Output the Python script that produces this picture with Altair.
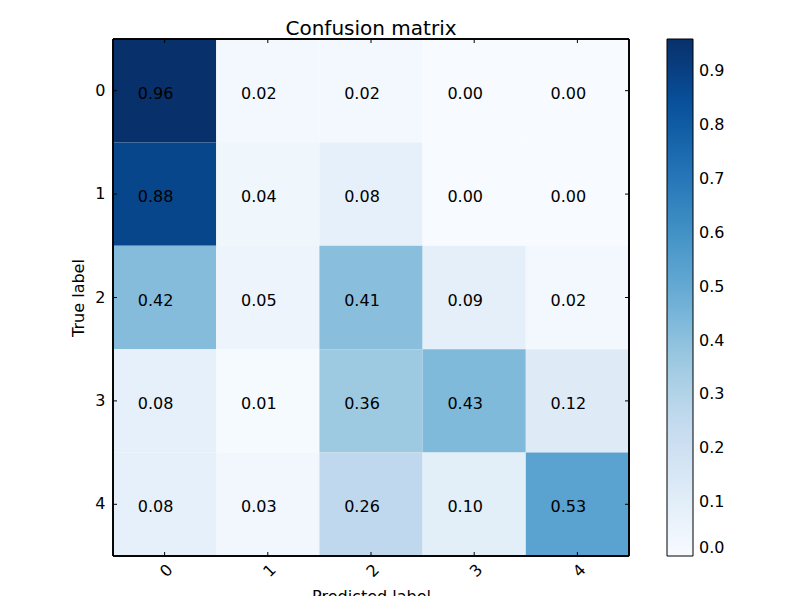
import altair as alt
import pandas as pd

labels = ["0", "1", "2", "3", "4"]
matrix = [
    [0.96, 0.02, 0.02, 0.00, 0.00],
    [0.88, 0.04, 0.08, 0.00, 0.00],
    [0.42, 0.05, 0.41, 0.09, 0.02],
    [0.08, 0.01, 0.36, 0.43, 0.12],
    [0.08, 0.03, 0.26, 0.10, 0.53],
]
blues = ["#f7fbff", "#deebf7", "#c6dbef", "#9ecae1", "#6baed6",
         "#4292c6", "#2171b5", "#08519c", "#08306b"]
cbar_ticks = [0.0, 0.1, 0.2, 0.3, 0.4, 0.5, 0.6, 0.7, 0.8, 0.9]

vmax = 0.96
stops = [vmax * i / (len(blues) - 1) for i in range(len(blues))]

rows = []
for i, t in enumerate(labels):
    for j, p in enumerate(labels):
        rows.append({"true": t, "pred": p, "v": matrix[i][j], "txt": f"{matrix[i][j]:.2f}"})
df = pd.DataFrame(rows)
cols_df = pd.DataFrame({"pred": labels})
rows_df = pd.DataFrame({"true": labels})

W, H = 516, 517
FONT = "DejaVu Sans"

xs = alt.Scale(domain=labels, paddingInner=0, paddingOuter=0)
ys = alt.Scale(domain=labels, paddingInner=0, paddingOuter=0)

rect = alt.Chart(df).mark_rect().encode(
    x=alt.X("pred:O", scale=xs, title="Predicted label",
            axis=alt.Axis(labelAngle=-45, ticks=False, domain=False, labelPadding=5,
                          labelFontSize=16, titleFontSize=16, titleFontWeight="normal",
                          labelFont=FONT, titleFont=FONT, labelColor="black", titleColor="black",
                          titlePadding=9)),
    y=alt.Y("true:O", scale=ys, title="True label",
            axis=alt.Axis(labelAngle=0, ticks=False, domain=False, labelPadding=8,
                          labelFontSize=16, titleFontSize=16, titleFontWeight="normal",
                          labelFont=FONT, titleFont=FONT, labelColor="black", titleColor="black",
                          titlePadding=8)),
    color=alt.Color("v:Q", scale=alt.Scale(domain=stops, range=blues, interpolate="rgb"),
                    legend=alt.Legend(title=None, orient="right", offset=38, padding=0,
                                      gradientLength=H, gradientThickness=26,
                                      gradientStrokeColor="black", gradientStrokeWidth=1,
                                      values=cbar_ticks, format=".1f",
                                      labelFontSize=16, labelFont=FONT, labelColor="black",
                                      labelOffset=6, labelOverlap=False)),
)

text = alt.Chart(df).mark_text(fontSize=16, font=FONT, color="black", dx=-9, dy=3,
                               baseline="middle").encode(
    x=alt.X("pred:O", scale=xs),
    y=alt.Y("true:O", scale=ys),
    text="txt:N",
)

top = alt.Chart(cols_df).mark_rule(color="black").encode(
    x=alt.X("pred:O", scale=xs), y=alt.value(0), y2=alt.value(4))
bottom = alt.Chart(cols_df).mark_rule(color="black").encode(
    x=alt.X("pred:O", scale=xs), y=alt.value(H - 4), y2=alt.value(H))
left = alt.Chart(rows_df).mark_rule(color="black").encode(
    y=alt.Y("true:O", scale=ys), x=alt.value(0), x2=alt.value(4))
right = alt.Chart(rows_df).mark_rule(color="black").encode(
    y=alt.Y("true:O", scale=ys), x=alt.value(W - 4), x2=alt.value(W))
frame = alt.Chart(rows_df).mark_rect(fill=None, stroke="black", strokeWidth=1).encode(
    x=alt.value(0), x2=alt.value(W), y=alt.value(0), y2=alt.value(H))

chart = alt.layer(rect, text, top, bottom, left, right, frame).properties(
    width=W, height=H,
    title=alt.TitleParams("Confusion matrix", fontSize=20, font=FONT, fontWeight="normal",
                          color="black", offset=0),
    autosize=alt.AutoSizeParams(type="none"),
    padding={"left": 105, "top": 31, "right": 163, "bottom": 40},
).configure_view(stroke=None).configure(background="white")

chart.save("out.html", embed_options={"renderer": "svg", "actions": False})
